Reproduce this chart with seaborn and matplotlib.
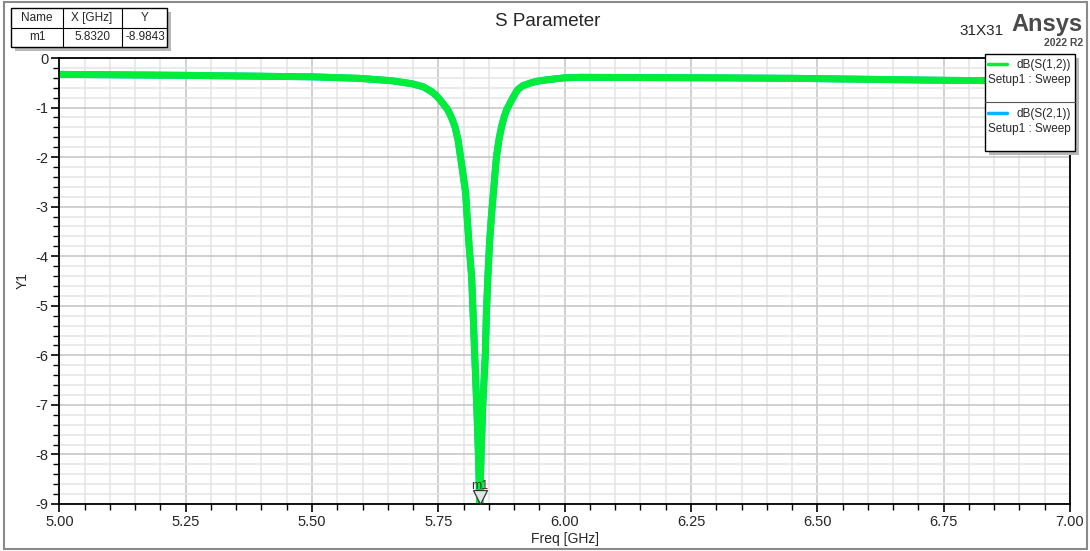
import numpy as np
import pandas as pd
import matplotlib
matplotlib.use("Agg")
import matplotlib.pyplot as plt
import matplotlib.transforms as mtransforms
from matplotlib.patches import Rectangle
from matplotlib.lines import Line2D
from matplotlib.ticker import MultipleLocator, FormatStrFormatter
import seaborn as sns

# S-parameter trace (GHz, dB)
freq = [5.000, 5.250, 5.500, 5.593, 5.659, 5.698, 5.720, 5.737, 5.746, 5.754,
        5.769, 5.776, 5.783, 5.789, 5.794, 5.799, 5.804, 5.807, 5.811, 5.816,
        5.819, 5.822, 5.826, 5.829, 5.832, 5.835, 5.838, 5.843, 5.845, 5.848,
        5.851, 5.855, 5.859, 5.862, 5.865, 5.870, 5.875, 5.880, 5.885, 5.895,
        5.901, 5.907, 5.917, 5.931, 5.945, 5.965, 6.000, 6.030, 6.290, 6.450,
        6.600, 6.750, 7.000]
s12 = [-0.33, -0.35, -0.38, -0.41, -0.46, -0.52, -0.58, -0.68, -0.76, -0.85,
       -1.05, -1.20, -1.39, -1.65, -2.00, -2.35, -2.72, -3.20, -3.80, -4.43,
       -5.20, -5.98, -7.00, -7.90, -8.98, -7.90, -7.00, -5.98, -5.20, -4.43,
       -3.80, -3.20, -2.72, -2.35, -2.00, -1.65, -1.39, -1.20, -1.05, -0.85,
       -0.74, -0.64, -0.56, -0.51, -0.47, -0.44, -0.40, -0.39, -0.40, -0.41,
       -0.43, -0.45, -0.47]
s21 = list(s12)  # reciprocal network, hidden under S(1,2)

m1_x = 5.8320
m1_y = -8.9843

x_ticks = [5.00, 5.25, 5.50, 5.75, 6.00, 6.25, 6.50, 6.75, 7.00]
y_ticks = [0, -1, -2, -3, -4, -5, -6, -7, -8, -9]

df = pd.DataFrame({"freq": freq, "dB(S(1,2))": s12, "dB(S(2,1))": s21})

sns.set_theme(style="white")
plt.rcParams["font.family"] = ["Liberation Sans", "DejaVu Sans"]

W, H = 1090, 551
fig = plt.figure(figsize=(W / 100, H / 100), dpi=100)
ax = fig.add_axes([59.3 / W, 1 - 504 / H, (1070 - 59.3) / W, (504 - 58) / H])

green = "#00ee3a"
blue = "#00b4ff"
sns.lineplot(data=df, x="freq", y="dB(S(2,1))", ax=ax, color=blue, lw=5,
             estimator=None, sort=False)
sns.lineplot(data=df, x="freq", y="dB(S(1,2))", ax=ax, color=green, lw=5,
             estimator=None, sort=False)

ax.set_xlim(5.0, 7.0)
ax.set_ylim(-9, 0)
ax.xaxis.set_major_locator(MultipleLocator(0.25))
ax.xaxis.set_minor_locator(MultipleLocator(0.05))
ax.yaxis.set_major_locator(MultipleLocator(1))
ax.yaxis.set_minor_locator(MultipleLocator(0.2))
ax.set_xticks(x_ticks)
ax.set_yticks(y_ticks)
ax.xaxis.set_major_formatter(FormatStrFormatter("%.2f"))
ax.yaxis.set_major_formatter(FormatStrFormatter("%d"))
ax.grid(which="major", color="#c4c4c4", lw=1.1)
ax.grid(which="minor", color="#e4e4e4", lw=1.1)
ax.set_axisbelow(True)
ax.tick_params(which="major", direction="out", length=6, width=1.2, color="black",
               labelsize=10.5, pad=2, bottom=True, left=True)
ax.tick_params(which="minor", direction="out", length=4, width=1.0, color="black",
               bottom=True, left=True)
for s in ax.spines.values():
    s.set_color("black")
    s.set_linewidth(1.3)
ax.set_xlabel("Freq [GHz]", fontsize=10, labelpad=2)
ax.set_ylabel("Y1", fontsize=10, labelpad=4)

# marker m1
off = mtransforms.offset_copy(ax.transData, fig=fig, x=0, y=6, units="dots")
ax.plot([m1_x], [m1_y], marker="v", ms=10, mfc="#e4e4e4", mec="#333333",
        mew=0.9, transform=off, clip_on=False, zorder=5)
ax.annotate("m1", (m1_x, m1_y), xytext=(0, 8), textcoords="offset points",
            ha="center", va="bottom", fontsize=9, color="#333333")


def fx(x):
    return x / W


def fy(y):
    return 1 - y / H


def box(x0, y0, x1, y1, **kw):
    fig.add_artist(Rectangle((fx(x0), fy(y1)), fx(x1) - fx(x0), fy(y0) - fy(y1),
                             transform=fig.transFigure, **kw))


def hline(x0, x1, y, **kw):
    fig.add_artist(Line2D([fx(x0), fx(x1)], [fy(y), fy(y)], transform=fig.transFigure, **kw))


def vline(x, y0, y1, **kw):
    fig.add_artist(Line2D([fx(x), fx(x)], [fy(y0), fy(y1)], transform=fig.transFigure, **kw))


# outer frame
box(4, 2, 1087, 549, fill=False, ec="#8a8a8a", lw=1.5, zorder=0)

# title block
fig.text(fx(548), fy(21), "S Parameter", ha="center", va="center", fontsize=13.5)
fig.text(fx(1004), fy(31), "31X31", ha="right", va="center", fontsize=11)
fig.text(fx(1083), fy(25), "Ansys", ha="right", va="center", fontsize=17,
         fontweight="bold", color="#4a4a4a")
fig.text(fx(1083), fy(43), "2022 R2", ha="right", va="center", fontsize=7.5,
         fontweight="bold", color="#4a4a4a")

# marker table
box(15, 12, 171, 51, fc="#b8b8b8", ec="none", zorder=4)
box(11, 8, 167, 47, fc="white", ec="black", lw=1.0, zorder=5)
hline(11, 167, 28, color="black", lw=0.8, zorder=6)
vline(63, 8, 47, color="black", lw=0.8, zorder=6)
vline(122, 8, 47, color="black", lw=0.8, zorder=6)
for cx, t1, t2 in [(37, "Name", "m1"), (92, "X [GHz]", f"{m1_x:.4f}"),
                   (145, "Y", f"{m1_y:.4f}")]:
    fig.text(fx(cx), fy(18), t1, ha="center", va="center", fontsize=8.5, zorder=7)
    fig.text(fx(cx), fy(37.5), t2, ha="center", va="center", fontsize=8.5, zorder=7)

# legend
box(989, 58, 1079, 155, fc="#b8b8b8", ec="none", zorder=4)
box(985, 54, 1075, 151, fc="white", ec="black", lw=1.0, zorder=5)
hline(985, 1075, 102, color="#555555", lw=0.8, zorder=6)
for y0, name, col in [(64, "dB(S(1,2))", green), (113, "dB(S(2,1))", blue)]:
    hline(988, 1007, y0, color=col, lw=2.5, zorder=6)
    fig.text(fx(1071), fy(y0 + 1), name, ha="right", va="center", fontsize=8.5, zorder=7)
    fig.text(fx(988), fy(y0 + 16), "Setup1 : Sweep", ha="left", va="center",
             fontsize=8.5, zorder=7)

fig.savefig("out.png", dpi=100)
